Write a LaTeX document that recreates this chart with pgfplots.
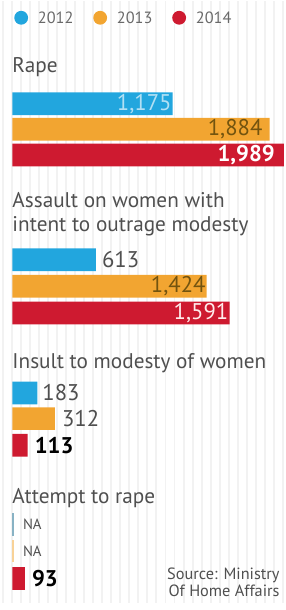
\documentclass[border=0pt]{standalone}
\usepackage{pgfplots}
\pgfplotsset{compat=1.18}
\usepackage{fontspec}
\setmainfont{PT Sans}
\definecolor{cblue}{HTML}{22A6DE}
\definecolor{corange}{HTML}{F2A531}
\definecolor{cred}{HTML}{CE1A30}
\definecolor{tgray}{HTML}{4F4F4F}
\definecolor{tbrown}{HTML}{73540F}
\begin{document}
\begin{tikzpicture}
\begin{axis}[
  scale only axis, width=288bp, height=610bp,
  xmin=-86.8, xmax=1995.7, ymin=-610, ymax=0,
  axis line style={draw=none},
  xtick distance=66, ytick=\empty, xticklabels={}, major tick length=0pt,
  xmajorgrids, grid style={black!5, line width=2bp},
  clip=false,
  xbar, bar shift=0pt, bar width=23,
  legend style={at={(axis cs:14.5,-17)}, anchor=west, draw=none, fill=none,
    legend columns=3, font=\fontsize{16.5bp}{17bp}\selectfont\color{tgray!85},
    column sep=4bp,
    nodes={inner sep=0pt, text depth=0pt},
    inner sep=0pt, outer sep=0pt},
  legend image code/.code={\fill[#1] (7bp,0) circle (7bp);},
]
\addplot[fill=cblue, draw=none] coordinates {(1175,-104) (613,-262) (183,-397)};
\addlegendentry{\makebox[58bp][l]{\hspace{6bp}2012}}
\addplot[fill=corange, draw=none] coordinates {(1884,-130) (1424,-289) (312,-423)};
\addlegendentry{\makebox[58bp][l]{\hspace{6bp}2013}}
\addplot[fill=cred, draw=none] coordinates {(1989,-156) (1591,-316) (113,-450) (93,-585)};
\addlegendentry{\makebox[58bp][l]{\hspace{6bp}2014}}
\addplot[fill=cblue!45!gray!70, draw=none, forget plot] coordinates {(14,-530)};
\addplot[fill=corange!50!white, draw=none, forget plot] coordinates {(14,-557)};

\tikzset{ttl/.style={anchor=west, inner sep=0pt, text=tgray, font=\fontsize{21.5bp}{25bp}\selectfont},
         val/.style={inner sep=1bp, font=\fontsize{23bp}{24bp}\selectfont}}
\node[ttl] at (axis cs:0,-67) {Rape};
\node[ttl] at (axis cs:0,-202) {Assault on women with};
\node[ttl] at (axis cs:0,-228) {intent to outrage modesty};
\node[ttl] at (axis cs:0,-367) {Insult to modesty of women};
\node[ttl] at (axis cs:0,-503) {Attempt to rape};

\node[val, anchor=east, text=cblue!35!white] at (axis cs:1175,-104) {1,175};
\node[val, anchor=east, text=tbrown, xshift=-6bp] at (axis cs:1884,-130) {1,884};
\node[val, anchor=east, text=white, xshift=-8bp, font=\fontsize{23bp}{24bp}\bfseries] at (axis cs:1989,-156) {1,989};
\node[val, anchor=west, text=tgray, xshift=5bp] at (axis cs:613,-262) {613};
\node[val, anchor=east, text=tbrown] at (axis cs:1424,-289) {1,424};
\node[val, anchor=east, text=red!8!white] at (axis cs:1591,-316) {1,591};
\node[val, anchor=west, text=tgray, xshift=4bp] at (axis cs:183,-397) {183};
\node[val, anchor=west, text=tgray, xshift=6bp] at (axis cs:312,-423) {312};
\node[val, anchor=west, text=black, xshift=6bp, font=\fontsize{23bp}{24bp}\bfseries] at (axis cs:113,-450) {113};
\node[val, anchor=west, text=tgray, font=\fontsize{15bp}{16bp}\selectfont] at (axis cs:70,-530) {NA};
\node[val, anchor=west, text=tgray, font=\fontsize{15bp}{16bp}\selectfont] at (axis cs:70,-557) {NA};
\node[val, anchor=west, text=black, xshift=6bp, font=\fontsize{23bp}{24bp}\bfseries] at (axis cs:93,-585) {93};
\node[anchor=east, align=right, inner sep=0pt, text=tgray, font=\fontsize{16.5bp}{17bp}\selectfont] at (axis cs:1959,-589) {Source: Ministry\\Of Home Affairs};
\end{axis}
\end{tikzpicture}
\end{document}
